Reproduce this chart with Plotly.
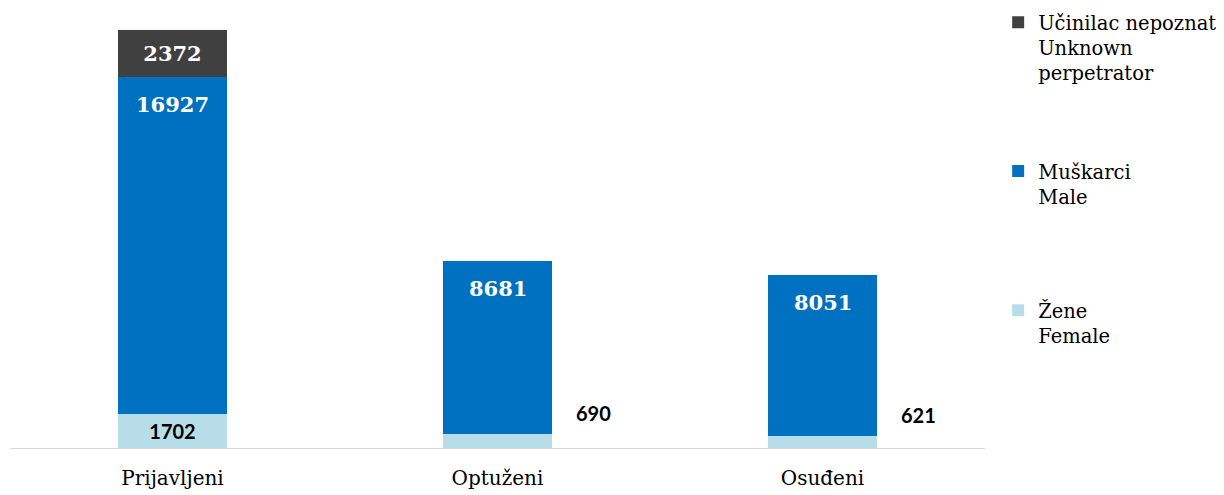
import plotly.graph_objects as go

categories = ["Prijavljeni", "Optuženi", "Osuđeni"]
female = [1702, 690, 621]
male = [16927, 8681, 8051]
unknown = [2372, None, None]

legend_unknown = "Učinilac nepoznat<br>Unknown<br>perpetrator"
legend_male = "Muškarci<br>Male"
legend_female = "Žene<br>Female"

c_female = "#B7DEE8"
c_male = "#0070C0"
c_unknown = "#404040"

serif = "DejaVu Serif"
sans = "Lato"

fig = go.Figure()
fig.add_trace(go.Bar(
    x=categories, y=female, name=legend_female, marker_color=c_female,
    marker_line_width=0, legend="legend3",
    text=[str(female[0]), "", ""], textposition="inside", insidetextanchor="middle",
    textfont=dict(family=sans, size=20, color="black", weight="bold"),
    hoverinfo="skip",
))
fig.add_trace(go.Bar(
    x=categories, y=male, name=legend_male, marker_color=c_male,
    marker_line_width=0, legend="legend2", hoverinfo="skip",
))
fig.add_trace(go.Bar(
    x=categories, y=unknown, name=legend_unknown, marker_color=c_unknown,
    marker_line_width=0, legend="legend",
    text=[str(v) if v else "" for v in unknown], textposition="inside",
    insidetextanchor="middle",
    textfont=dict(family=serif, size=21, color="white", weight="bold"),
    hoverinfo="skip",
))

# male value labels near top of male segment
for c, f, m in zip(categories, female, male):
    fig.add_annotation(x=c, y=f + m, text=str(m), showarrow=False, yshift=-27,
                       font=dict(family=serif, size=21, color="white", weight="bold"))
# female labels outside (to the right) for the small ones
for c, f in list(zip(categories, female))[1:]:
    fig.add_annotation(x=c, y=f, text=str(f), showarrow=False, xshift=96, yshift=21,
                       font=dict(family=sans, size=20, color="black", weight="bold"))

leg_common = dict(xanchor="left", yanchor="top", valign="top",
                  font=dict(family=serif, size=19.5, color="black"),
                  bgcolor="rgba(0,0,0,0)")

fig.update_layout(
    barmode="stack",
    bargap=0.665,
    width=1216, height=487,
    margin=dict(l=2, r=239, t=2, b=47, autoexpand=False),
    plot_bgcolor="white", paper_bgcolor="white",
    showlegend=True,
    legend=dict(x=1.0135, y=1.016, **leg_common),
    legend2=dict(x=1.0135, y=0.676, **leg_common),
    legend3=dict(x=1.0135, y=0.3585, **leg_common),
    xaxis=dict(
        range=[-0.5, 2.5], showline=True, linecolor="#d9d9d9", linewidth=1,
        ticks="", ticklabelstandoff=12, automargin=False,
        tickfont=dict(family=serif, size=20, color="black"),
        showgrid=False, zeroline=False,
    ),
    yaxis=dict(range=[0, 22000], visible=False, showgrid=False, zeroline=False,
               automargin=False),
)

fig.write_html("out.html")
